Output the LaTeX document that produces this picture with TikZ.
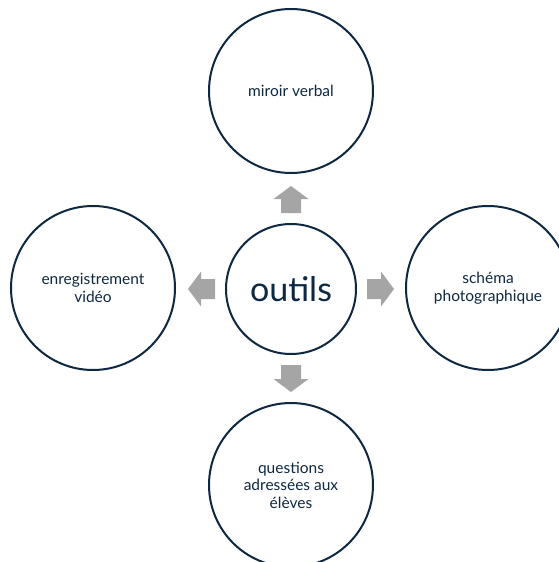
\documentclass[tikz,border=0pt]{standalone}
\usepackage{fontspec}
\setmainfont{Lato}
\usepackage{tikz}
\usetikzlibrary{positioning}

\definecolor{encre}{HTML}{0E2841}
\definecolor{gris}{HTML}{A5A5A5}

\tikzset{
  bulle/.style={circle, draw=encre, line width=2pt, fill=white, minimum size=164pt,
    inner sep=0pt, text=encre, align=center, font=\fontsize{15.5}{17.5}\selectfont},
  noyau/.style={bulle, minimum size=130pt, font=\fontsize{34}{38}\selectfont},
  fleche/.style={fill=gris, draw=none}
}

\begin{document}
\begin{tikzpicture}[x=1pt,y=-1pt]
   \useasboundingbox (0,0) rectangle (559,562);
   \clip (0,0) rectangle (559,562);
    \node[noyau] (centre) at (291,289) {outils};
    \node[bulle] (haut) at (291,91) {miroir verbal};
    \node[bulle] (gauche) at (93,288) {enregistrement\\vidéo};
    \node[bulle] (droite) at (488,288) {schéma\\photographique};
    \node[bulle] (bas) at (291,485) {questions\\adressées aux\\élèves};
    % fleches grises autour du centre
    \foreach \a in {0,90,180,270}
      \fill[fleche, shift={(centre.center)}, rotate=\a]
        (76,-10) -- (90,-10) -- (90,-17.5) -- (103,0) -- (90,17.5) -- (90,10) -- (76,10) -- cycle;
\end{tikzpicture}
\end{document}
